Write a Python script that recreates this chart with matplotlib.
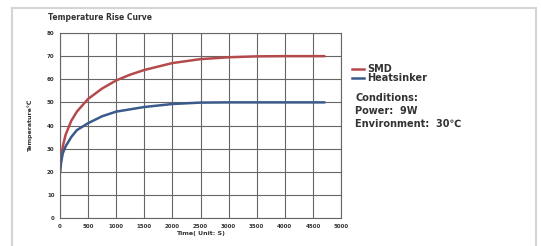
import matplotlib
matplotlib.use("Agg")
import matplotlib.pyplot as plt
from matplotlib.patches import Rectangle

# values
time_s = [0, 20, 50, 100, 200, 300, 500, 750, 1000, 1250, 1500, 2000, 2500, 3000, 3500, 4000, 4700]
smd = [20, 26, 31, 36, 42, 46, 51.5, 56, 59.5, 62, 64, 67, 68.7, 69.5, 69.9, 70, 70]
heatsinker = [20, 24, 28, 31, 35, 38, 41, 44, 46, 47, 48, 49.3, 49.9, 50, 50, 50, 50]

x_ticks = [0, 500, 1000, 1500, 2000, 2500, 3000, 3500, 4000, 4500, 5000]
y_ticks = [0, 10, 20, 30, 40, 50, 60, 70, 80]
conditions = ["Conditions:", "Power:  9W", "Environment:  30\u2103"]

plt.rcParams["font.family"] = ["DejaVu Sans"]

fig = plt.figure(figsize=(5.41, 2.46), dpi=100)
fig.patch.set_facecolor("white")

# light outer frame of the picture
fig.patches.append(Rectangle((12 / 541, -0.05), 524 / 541, 1.05 - 8 / 246,
                             transform=fig.transFigure, fill=False,
                             edgecolor="#d4d4d4", linewidth=1.5))

ax = fig.add_axes([60 / 541, 1 - 218 / 246, 281 / 541, 185 / 246])
ax.plot(time_s, smd, color="#b54a4c", linewidth=1.8, label="SMD")
ax.plot(time_s, heatsinker, color="#3b5a8c", linewidth=1.8, label="Heatsinker")

ax.set_xlim(0, 5000)
ax.set_ylim(0, 80)
ax.set_xticks(x_ticks)
ax.set_yticks(y_ticks)
ax.tick_params(labelsize=4, length=0, pad=4, colors="#333333")
for lab in ax.get_xticklabels() + ax.get_yticklabels():
    lab.set_fontweight("bold")
ax.grid(True, color="#666666", linewidth=0.8)
for s in ax.spines.values():
    s.set_color("#666666")
    s.set_linewidth(0.8)

ax.set_xlabel("Time( Unit: S)", fontsize=4.5, fontweight="bold", labelpad=2, color="#333333")
ax.set_ylabel("Temperature\u2103", fontsize=4.5, fontweight="bold", labelpad=10, color="#333333")
fig.text(48 / 541, 1 - 18 / 246, "Temperature Rise Curve", fontsize=5.5,
         fontweight="bold", color="#333333", va="center")

leg = ax.legend(loc="upper left", bbox_to_anchor=(352 / 541, 1 - 64 / 246),
                bbox_transform=fig.transFigure, frameon=False,
                prop={"size": 7, "weight": "bold"},
                handlelength=1.2, handletextpad=0.4, labelspacing=-0.1,
                borderpad=0, borderaxespad=0)
for t in leg.get_texts():
    t.set_color("#333333")

for i, line in enumerate(conditions):
    fig.text(355 / 541, 1 - (98 + 13 * i) / 246, line, fontsize=7,
             fontweight="bold", color="#333333", va="center")

fig.savefig("out.png", dpi=100)
